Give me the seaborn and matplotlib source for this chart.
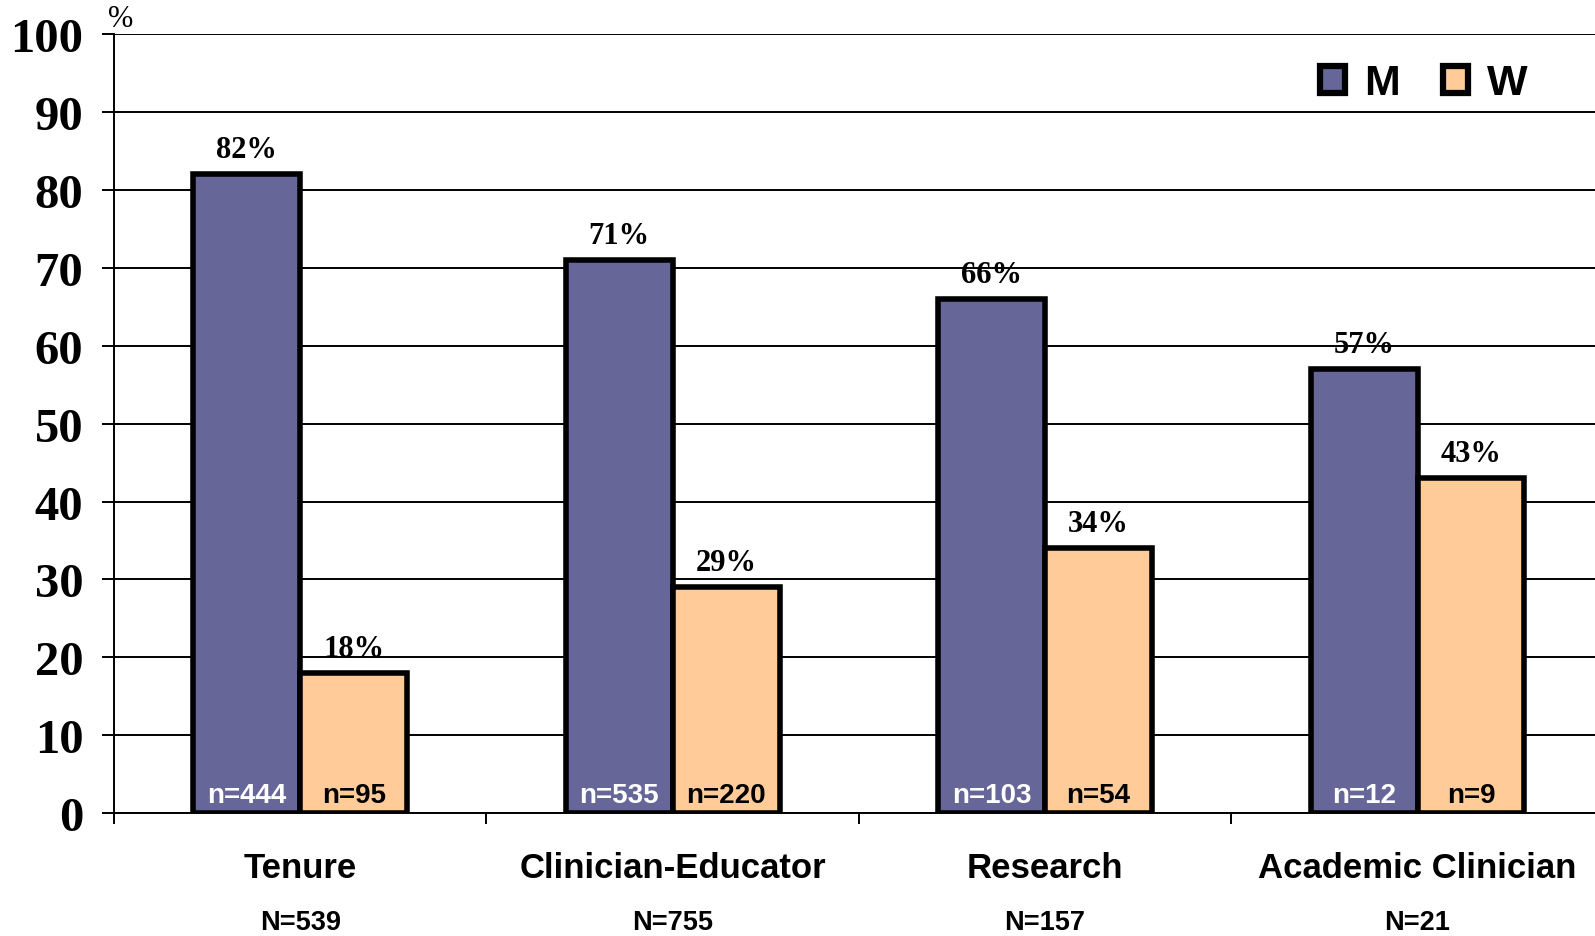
import matplotlib
matplotlib.use("Agg")
import matplotlib.pyplot as plt
from matplotlib.patches import Patch
import matplotlib.transforms as mtrans
import seaborn as sns
import pandas as pd

categories = ["Tenure", "Clinician-Educator", "Research", "Academic Clinician"]
group_totals = ["N=539", "N=755", "N=157", "N=21"]
men_pct = [82, 71, 66, 57]
women_pct = [18, 29, 34, 43]
men_n = ["n=444", "n=535", "n=103", "n=12"]
women_n = ["n=95", "n=220", "n=54", "n=9"]
series = ["M", "W"]
colors = ["#666699", "#FFCC99"]
yticks = list(range(0, 101, 10))

df = pd.DataFrame({
    "category": categories * 2,
    "sex": ["M"] * 4 + ["W"] * 4,
    "pct": men_pct + women_pct,
})

sns.set_style("white")
plt.rcParams["font.family"] = ["Liberation Sans", "DejaVu Sans"]
plt.rcParams["text.color"] = "black"
plt.rcParams["xtick.color"] = "black"
plt.rcParams["ytick.color"] = "black"
plt.rcParams["axes.labelcolor"] = "black"

fig = plt.figure(figsize=(15.95, 9.37), dpi=100)
ax = fig.add_axes([0.0715, 0.131, 0.934, 0.8317])

sns.barplot(data=df, x="category", y="pct", hue="sex", order=categories,
            hue_order=series, palette=colors, width=0.574, gap=0,
            edgecolor="black", linewidth=4, saturation=1, ax=ax, legend=False,
            errorbar=None, zorder=3)

ax.set_xlim(-0.5, 3.5)
ax.set_ylim(0, 100)
ax.set_yticks(yticks)
ax.set_yticklabels([str(v) for v in yticks], fontfamily="Liberation Serif",
                   fontweight="bold", fontsize=35, color="black")
ax.yaxis.grid(True, color="black", linewidth=1.4, zorder=0)
ax.set_axisbelow(True)
for s in ["top", "right"]:
    ax.spines[s].set_visible(False)
ax.spines["left"].set_linewidth(1.4)
ax.spines["bottom"].set_linewidth(1.4)
ax.spines["left"].set_color("black")
ax.spines["bottom"].set_color("black")
ax.tick_params(axis="y", direction="out", length=9, width=1.4, color="black", pad=13, left=True)

# boundaries as major ticks, labels at minor ticks
ax.set_xticks([-0.5, 0.5, 1.5, 2.5])
ax.set_xticklabels([])
ax.set_xticks(range(len(categories)), minor=True)
ax.set_xticklabels(categories, minor=True, fontsize=25, fontweight="bold", color="black")
ax.tick_params(axis="x", which="major", direction="out", length=8, width=1.4, color="black", bottom=True)
ax.tick_params(axis="x", which="minor", length=0, pad=27)
ax.set_xlabel("")
ax.set_ylabel("")

trans = mtrans.blended_transform_factory(ax.transData, ax.transAxes)
for i, t in enumerate(group_totals):
    ax.annotate(t, xy=(i, 0), xycoords=trans, xytext=(0, -78), textcoords="offset points",
                ha="center", va="center", fontsize=19.5, fontweight="bold", color="black")

containers = ax.containers
for ci, (pcts, ns, tc) in enumerate([(men_pct, men_n, "white"), (women_pct, women_n, "black")]):
    for bar, p, n in zip(containers[ci], pcts, ns):
        xc = bar.get_x() + bar.get_width() / 2
        ax.annotate(f"{p}%", xy=(xc, bar.get_height()), xytext=(0, 17.5), textcoords="offset points",
                    ha="center", va="center", fontsize=22, fontweight="bold",
                    fontfamily="Liberation Serif", color="black", zorder=5)
        ax.annotate(n, xy=(xc, 0), xytext=(0, 13), textcoords="offset points",
                    ha="center", va="center", fontsize=20, fontweight="bold", color=tc, zorder=5)

ax.annotate("%", xy=(-0.5, 100), xytext=(5, 11), textcoords="offset points",
            ha="center", va="center", fontsize=22, fontfamily="Liberation Serif", color="black")

handles = [Patch(facecolor=c, edgecolor="black", linewidth=4.5) for c in colors]
leg = ax.legend(handles, series, loc="upper right", bbox_to_anchor=(0.975, 1.012),
                ncol=2, frameon=False, handlelength=0.58, handleheight=0.58,
                prop={"family": "Liberation Sans", "weight": "bold", "size": 31},
                columnspacing=1.0, handletextpad=0.45)
for t in leg.get_texts():
    t.set_color("black")

fig.savefig("out.png", dpi=100)
